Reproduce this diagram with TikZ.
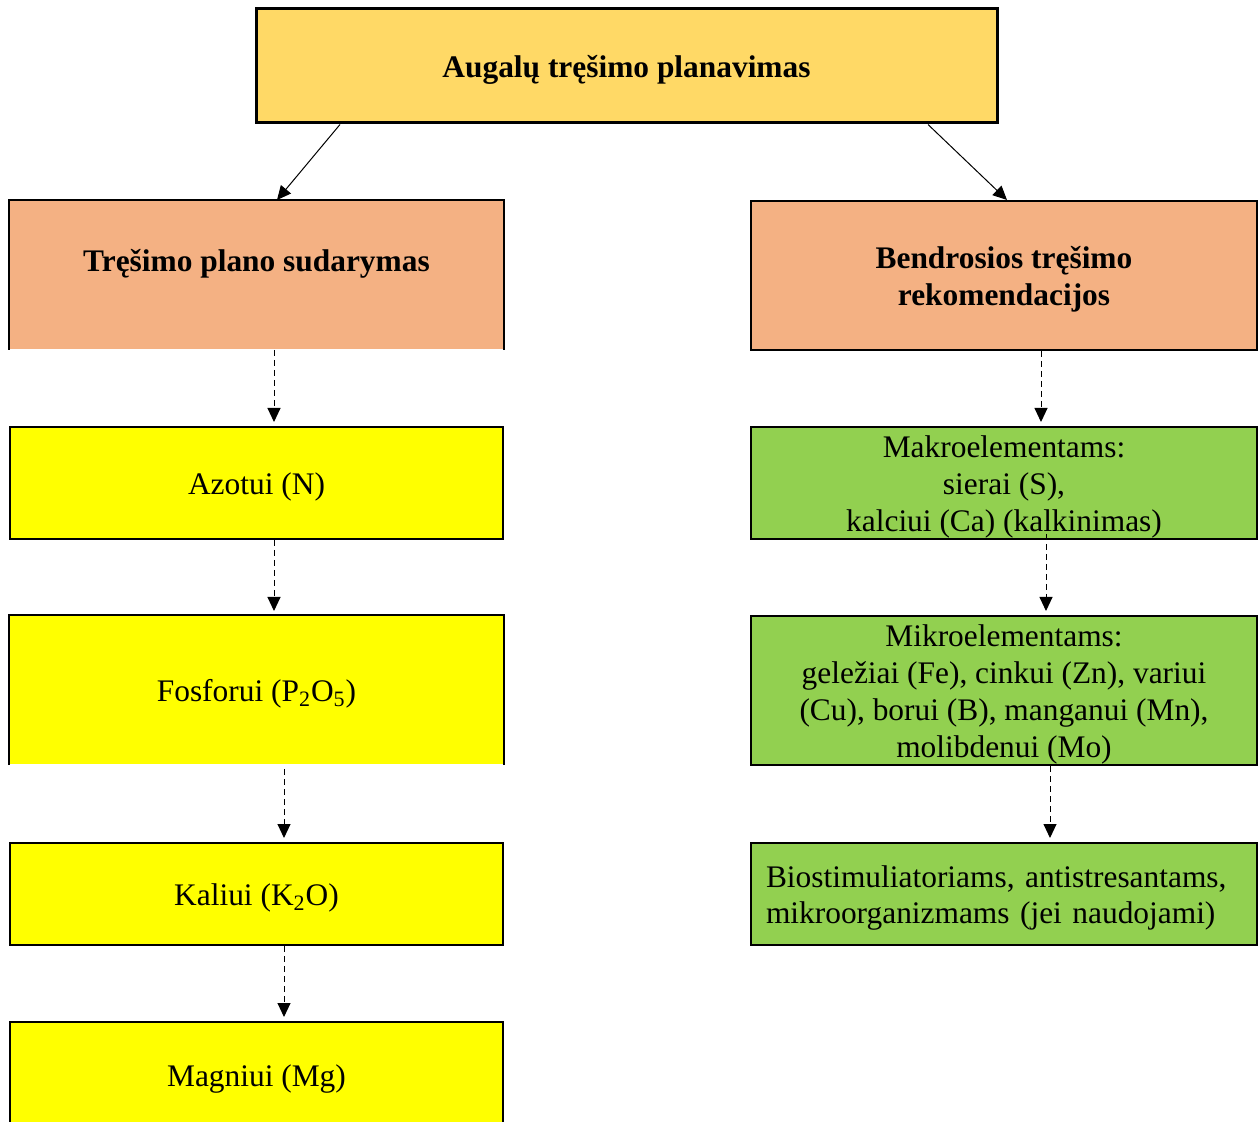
\documentclass[tikz,border=0pt]{standalone}
\usepackage{fontspec}
\setmainfont{Liberation Serif}
\usetikzlibrary{arrows.meta}
\definecolor{topc}{HTML}{FFD966}
\definecolor{orc}{HTML}{F4B183}
\definecolor{yel}{HTML}{FFFF00}
\definecolor{grn}{HTML}{92D050}
\begin{document}
\begin{tikzpicture}[x=0.5pt,y=-0.5pt,
  every node/.style={font=\fontsize{15.7}{18.4}\selectfont},
  boxbase/.style={rectangle, inner sep=0pt},
  lab/.style={inner sep=0pt, align=center, yshift=-2pt},
  blab/.style={lab, font=\fontsize{15.7}{18.4}\selectfont\bfseries},
  topbox/.style={boxbase, draw, line width=1.5pt, fill=topc, minimum width=370.5pt, minimum height=57pt},
  obox/.style={boxbase, line width=1pt, fill=orc},
  ybox/.style={boxbase, line width=1pt, fill=yel, minimum width=246.5pt},
  gbox/.style={boxbase, draw, line width=1pt, fill=grn, minimum width=253pt},
  side/.style={line width=1pt},
  solidarrow/.style={line width=0.5pt, -{Triangle[length=7pt,width=6.5pt]}},
  dasharrow/.style={line width=0.5pt, dash pattern=on 3pt off 2pt, -{Triangle[length=7pt,width=6.5pt]}, shorten >=2pt}
]
\begin{scope}
\clip (0,0) rectangle (1258,1122);
% top
\node[topbox, label={[blab]center:Augalų tręšimo planavimas}] (top) at (626.5,66) {};
% left column
\node[obox, minimum width=246.5pt, minimum height=74pt, label={[blab]center:{Tręšimo plano sudarymas\\\mbox{}}}] (plan) at (256.5,275) {};
\draw[side] (plan.south west) |- (plan.north east) -- (plan.south east);
\node[ybox, draw, minimum height=56pt, label={[lab]center:Azotui (N)}] (n) at (256.5,483) {};
\node[ybox, minimum height=74pt, label={[lab]center:Fosforui (P\textsubscript{2}O\textsubscript{5})}] (p) at (256.5,690) {};
\draw[side] (p.south west) |- (p.north east) -- (p.south east);
\node[ybox, draw, minimum height=51pt, label={[lab]center:Kaliui (K\textsubscript{2}O)}] (k) at (256.5,894) {};
\node[ybox, draw, minimum height=53pt, label={[lab]center:Magniui (Mg)}] (mg) at (256.5,1075) {};
% right column
\node[obox, draw, minimum width=253pt, minimum height=74.5pt, label={[blab]center:{Bendrosios tręšimo\\rekomendacijos}}] (rek) at (1004,275.5) {};
\node[gbox, minimum height=56pt, label={[lab]center:{Makroelementams:\\sierai (S),\\kalciui (Ca) (kalkinimas)}}] (makro) at (1004,483) {};
\node[gbox, minimum height=74.5pt, label={[lab]center:{Mikroelementams:\\geležiai (Fe), cinkui (Zn), variui\\(Cu), borui (B), manganui (Mn),\\molibdenui (Mo)}}] (mikro) at (1004,690.5) {};
\node[gbox, minimum height=51pt, label={[lab, text width=238pt, align=left]center:{Biostimuliatoriams, antistresantams,\\mikroorganizmams (jei naudojami)}}] (bio) at (1004,894) {};
% connectors
\draw[solidarrow] ([xshift=-143.25pt]top.south) -- ([xshift=10.25pt]plan.north);
\draw[solidarrow] ([xshift=150.75pt]top.south) -- ([xshift=1.5pt]rek.north);
\draw[dasharrow] ([xshift=8.75pt]plan.south) -- ([xshift=8.75pt]n.north);
\draw[dasharrow] ([xshift=8.75pt]n.south) -- ([xshift=8.75pt]p.north);
\draw[dasharrow] ([xshift=13.75pt,yshift=-2pt]p.south) -- ([xshift=13.75pt]k.north);
\draw[dasharrow] ([xshift=13.75pt]k.south) -- ([xshift=13.75pt]mg.north);
\draw[dasharrow] ([xshift=18.5pt]rek.south) -- ([xshift=18.5pt]makro.north);
\draw[dasharrow] ([xshift=21pt,yshift=3pt]makro.south) -- ([xshift=21pt]mikro.north);
\draw[dasharrow] ([xshift=23pt]mikro.south) -- ([xshift=23pt]bio.north);
\end{scope}
\pgfresetboundingbox
\useasboundingbox (0,0) rectangle (1258,1122);
\end{tikzpicture}
\end{document}
